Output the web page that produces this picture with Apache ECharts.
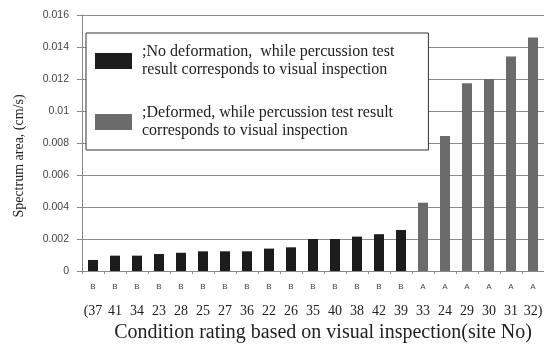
<!DOCTYPE html>
<html>
<head>
<meta charset="utf-8">
<script src="https://cdn.jsdelivr.net/npm/echarts@6/dist/echarts.min.js"></script>
<style>
  html, body { margin: 0; padding: 0; background: #fff; }
  #chart { width: 544px; height: 345px; }
</style>
</head>
<body>
<div id="chart"></div>
<script>
// Site numbers, sorted by spectrum area
const siteNos = ['37','41','34','23','28','25','27','36','22','26','35','40','38','42','39','33','24','29','30','31','32'];
// Visual inspection rating for each site
const ratings = ['B','B','B','B','B','B','B','B','B','B','B','B','B','B','B','A','A','A','A','A','A'];
// Spectrum area (cm/s)
const spectrumArea = [0.00069,0.00096,0.00096,0.00106,0.00114,0.00123,0.00123,0.00123,0.0014,0.00148,0.0020,0.0020,0.00215,0.0023,0.00256,0.00427,0.00844,0.01173,0.0120,0.0134,0.0146];
// Y-axis range
const yMin = 0, yMax = 0.016, yStep = 0.002;

const nameB = ';No deformation,  while percussion test\nresult corresponds to visual inspection';
const nameA = ';Deformed, while percussion test result\ncorresponds to visual inspection';

const dataB = spectrumArea.map((v, i) => ratings[i] === 'B' ? v : '-');
const dataA = spectrumArea.map((v, i) => ratings[i] === 'A' ? v : '-');
const lastIdx = siteNos.length - 1;

const chart = echarts.init(document.getElementById('chart'), null, { renderer: 'canvas' });
chart.setOption({
  animation: false,
  backgroundColor: '#ffffff',
  grid: { left: 82, right: 0, top: 15, bottom: 74, containLabel: false, outerBoundsMode: 'none' },
  legend: {
    orient: 'vertical',
    left: 86, top: 33,
    padding: [5, 34, 5, 9],
    itemGap: 15,
    itemWidth: 37, itemHeight: 16,
    backgroundColor: '#ffffff',
    borderColor: '#333333', borderWidth: 1,
    borderRadius: 0,
    icon: 'rect',
    selectedMode: false,
    textStyle: {
      fontFamily: 'Liberation Serif', fontSize: 16, color: '#222',
      lineHeight: 18, padding: [10, 0, 0, 5]
    },
    data: [nameB, nameA]
  },
  xAxis: {
    type: 'category',
    data: siteNos,
    name: 'Condition rating based on visual inspection(site No)',
    nameLocation: 'middle',
    nameGap: 50,
    nameTextStyle: { fontFamily: 'Liberation Serif', fontSize: 20, color: '#222', padding: [0, 0, 0, 20] },
    axisLine: { lineStyle: { color: '#888', width: 1 } },
    axisTick: { show: true, length: 3, lineStyle: { color: '#888' } },
    axisLabel: {
      interval: 0, margin: 10,
      formatter: (v, i) => {
        let n = v;
        if (i === 0) n = '(' + v;
        if (i === lastIdx) n = v + ')';
        return '{r|' + ratings[i] + '}\n{n|' + n + '}';
      },
      rich: {
        r: { fontFamily: 'Liberation Sans', fontSize: 8, color: '#444', lineHeight: 12 },
        n: { fontFamily: 'Liberation Serif', fontSize: 14, color: '#222', lineHeight: 36 }
      }
    }
  },
  yAxis: {
    type: 'value',
    min: yMin, max: yMax, interval: yStep,
    name: 'Spectrum area, (cm/s)',
    nameLocation: 'middle',
    nameGap: 56,
    nameRotate: 90,
    nameTextStyle: { fontFamily: 'Liberation Serif', fontSize: 14, color: '#222', padding: [0, 26, 0, 0] },
    axisLine: { show: true, lineStyle: { color: '#888', width: 1 } },
    axisTick: { show: true, length: 5, lineStyle: { color: '#888' } },
    axisLabel: { margin: 13, fontFamily: 'Liberation Sans', fontSize: 10.5, color: '#444' },
    splitLine: { show: true, lineStyle: { color: '#8a8a8a', width: 1 } }
  },
  series: [
    { name: nameB, type: 'bar', data: dataB, barWidth: 10, barGap: '-100%', itemStyle: { color: '#1c1c1c' } },
    { name: nameA, type: 'bar', data: dataA, barWidth: 10, barGap: '-100%', itemStyle: { color: '#6b6b6b' } }
  ]
});
</script>
</body>
</html>
